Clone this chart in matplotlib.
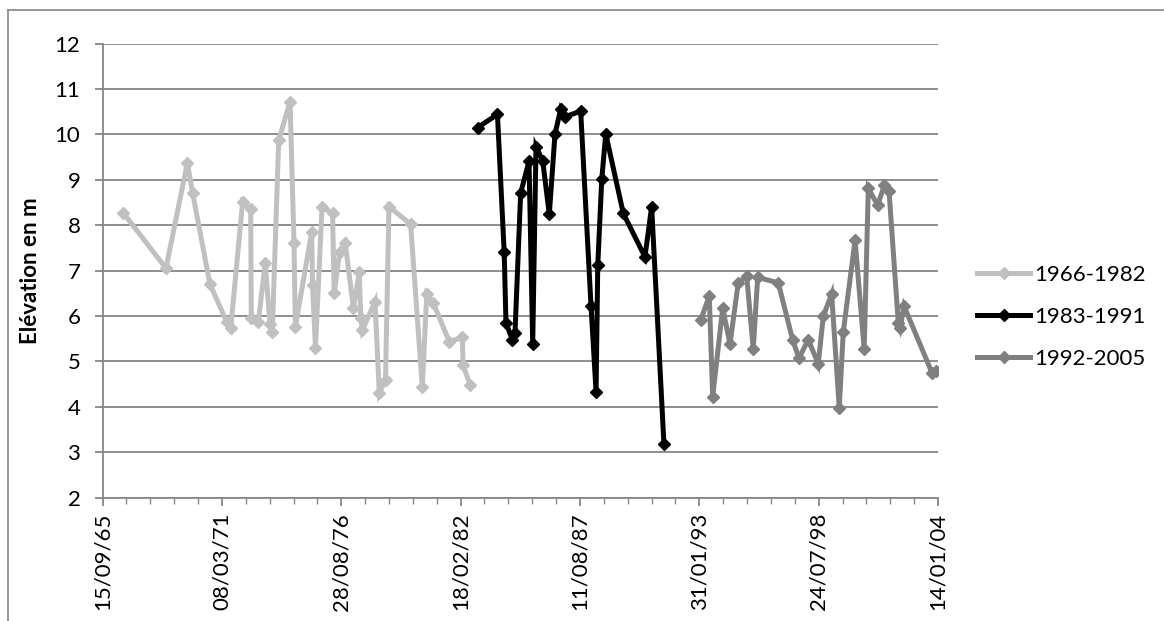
import matplotlib
matplotlib.use('Agg')
import matplotlib.pyplot as plt
import matplotlib.dates as mdates
import numpy as np
from datetime import date, timedelta

plt.rcParams['font.family'] = ['Lato', 'DejaVu Sans']

# series 1966-1982
d1 = ['1966-08-27', '1968-08-12', '1969-08-05', '1969-11-03', '1970-08-19', '1971-05-27',
      '1971-08-02', '1972-02-18', '1972-07-02', '1972-07-12', '1972-11-06', '1973-03-03',
      '1973-05-21', '1973-06-29', '1973-10-14', '1974-04-22', '1974-06-28', '1974-07-20',
      '1975-04-20', '1975-05-05', '1975-06-22', '1975-10-10', '1976-04-03', '1976-05-01',
      '1976-07-30', '1976-11-03', '1977-03-18', '1977-06-25', '1977-07-21', '1977-08-14',
      '1978-03-16', '1978-05-27', '1978-09-08', '1978-11-05', '1979-11-03', '1980-05-17',
      '1980-07-30', '1980-11-18', '1981-08-13', '1982-03-18', '1982-04-01', '1982-07-25']
v1 = [8.27, 7.05, 9.37, 8.70, 6.70, 5.87, 5.73, 8.52, 8.35, 5.95, 5.87, 7.17,
      5.82, 5.65, 9.87, 10.72, 7.60, 5.76, 7.85, 6.68, 5.29, 8.40, 8.27, 6.50,
      7.40, 7.60, 6.18, 6.96, 5.95, 5.68, 6.31, 4.30, 4.59, 8.41, 8.02, 4.43,
      6.48, 6.28, 5.43, 5.53, 4.92, 4.48]

# series 1983-1991
d2 = ['1982-11-28', '1983-10-28', '1984-02-18', '1984-03-19', '1984-07-03', '1984-08-17',
      '1984-11-20', '1985-04-09', '1985-06-10', '1985-08-04', '1985-11-24', '1986-03-15',
      '1986-06-18', '1986-09-22', '1986-12-03', '1987-08-23', '1988-02-12', '1988-05-07',
      '1988-06-04', '1988-08-10', '1988-10-16', '1989-08-06', '1990-08-04', '1990-11-24',
      '1991-06-18']
v2 = [10.15, 10.44, 7.40, 5.85, 5.48, 5.62, 8.71, 9.41, 5.38, 9.73, 9.42, 8.24,
      10.00, 10.56, 10.39, 10.51, 6.22, 4.33, 7.12, 9.01, 10.01, 8.26, 7.30, 8.41,
      3.18]

# series 1992-2005
d3 = ['1993-02-23', '1993-07-17', '1993-09-12', '1994-02-27', '1994-06-29', '1994-11-14',
      '1995-04-05', '1995-07-24', '1995-10-06', '1996-09-15', '1997-05-15', '1997-08-28',
      '1998-02-01', '1998-07-17', '1998-10-10', '1999-02-27', '1999-07-04', '1999-09-09',
      '2000-03-25', '2000-08-25', '2000-11-02', '2001-04-08', '2001-07-28', '2001-10-15',
      '2002-03-20', '2002-04-18', '2002-06-23', '2003-10-04', '2003-12-18']
v3 = [5.91, 6.44, 4.22, 6.17, 5.38, 6.73, 6.88, 5.27, 6.85, 6.73, 5.47, 5.07,
      5.48, 4.94, 6.00, 6.48, 3.98, 5.64, 7.67, 5.27, 8.81, 8.44, 8.88, 8.76,
      5.84, 5.73, 6.22, 4.75, 4.78]

labels = ['1966-1982', '1983-1991', '1992-2005']
colors = ['#c0c0c0', '#000000', '#808080']

grid_c = '#868686'
fig = plt.figure(figsize=(11.64, 6.21), dpi=100)
ax = fig.add_axes([102.6 / 1164, 1 - 497.5 / 621, (938 - 102.6) / 1164, (497.5 - 43.6) / 621])

for d, v, lab, c in zip([d1, d2, d3], [v1, v2, v3], labels, colors):
    x = [date.fromisoformat(s) for s in d]
    ax.plot(x, v, color=c, lw=3.6, marker='D', ms=6, label=lab, solid_joinstyle='miter')

start = date(1965, 9, 15)
ax.set_xlim(start, date(2004, 1, 14))
ax.set_ylim(2, 12)
ax.set_yticks(range(2, 13))
major = [start + timedelta(days=2000 * i) for i in range(8)]
minor = [start + timedelta(days=400 * i) for i in range(36)]
ax.xaxis.set_major_locator(matplotlib.ticker.FixedLocator(mdates.date2num(major)))
ax.xaxis.set_minor_locator(matplotlib.ticker.FixedLocator(mdates.date2num(minor)))
ax.xaxis.set_major_formatter(mdates.DateFormatter('%d/%m/%y'))
plt.setp(ax.get_xticklabels(), rotation=90)

ax.grid(axis='y', color=grid_c, lw=1.3)
ax.set_axisbelow(True)
for s in ['top', 'right']:
    ax.spines[s].set_visible(False)
for s in ['left', 'bottom']:
    ax.spines[s].set_color(grid_c)
    ax.spines[s].set_linewidth(1.3)
ax.tick_params(axis='both', which='major', length=6, color=grid_c, width=1.3,
               labelsize=16, pad=5)
ax.tick_params(axis='y', which='major', pad=10)
ax.tick_params(axis='x', which='minor', length=4, color=grid_c, width=1.0)
ax.set_ylabel('Elévation en m', fontsize=16, fontweight='bold', labelpad=10)

leg = ax.legend(loc='center left', bbox_to_anchor=(966 / 1164, 1 - 317 / 621),
                bbox_transform=fig.transFigure, frameon=False, fontsize=16,
                handlelength=2.4, handletextpad=0.15, labelspacing=1.0, borderpad=0)

# chart area border
fig.add_artist(plt.Line2D([8 / 1164, 8 / 1164], [0, 1 - 10 / 621], color=grid_c, lw=1.2))
fig.add_artist(plt.Line2D([8 / 1164, 1], [1 - 10 / 621, 1 - 10 / 621], color=grid_c, lw=1.2))

fig.savefig('out.png', dpi=100)
